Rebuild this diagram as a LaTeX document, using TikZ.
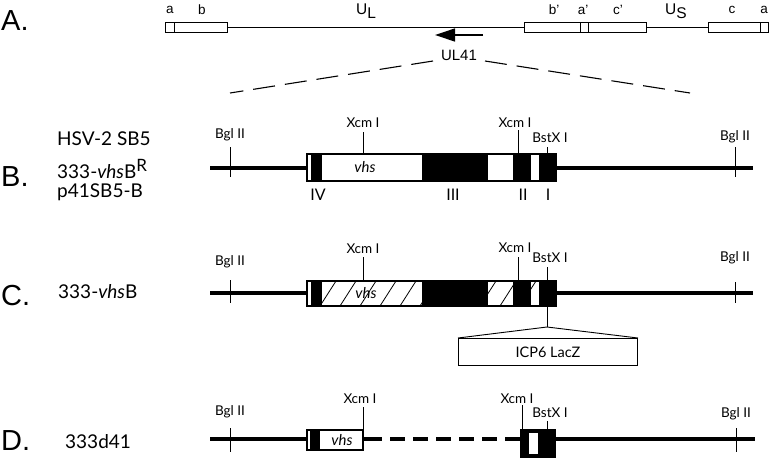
\documentclass[tikz,border=0pt]{standalone}
\usepackage{fontspec}
\setmainfont{Liberation Sans}
\newfontfamily\opt{Lato}
\usetikzlibrary{arrows.meta}
\newcommand\hatchseg[4]{\begin{scope}\clip (#1,#2) rectangle (#3,#4);
  \foreach \k in {280,300,...,580} \draw[line width=0.8pt] (\k,#4) -- (\k+16,#2);
  \end{scope}}
\begin{document}
\begin{tikzpicture}[x=1pt,y=-1pt,
  thinln/.style={line width=0.9pt},
  dna/.style={line width=4pt},
  tickln/.style={line width=0.9pt},
  site/.style={font=\opt\fontsize{13.5}{14}\selectfont, inner sep=0pt, anchor=base},
  rowlab/.style={font=\fontsize{29}{30}\selectfont, inner sep=0pt, anchor=base west},
  strain/.style={font=\opt\fontsize{19}{20}\selectfont, inner sep=0pt, anchor=base west},
  roman/.style={font=\opt\fontsize{16}{16}\selectfont, inner sep=0pt, anchor=base},
  genebox/.style={line width=1.2pt},
  vhslab/.style={font=\opt\itshape\fontsize{15}{15}\selectfont, inner sep=0pt},
  albl/.style={font=\fontsize{13.5}{14}\selectfont, inner sep=0pt},
  ]
\useasboundingbox (0,0) rectangle (770,461);

% ---------------- Row A ----------------
\node[rowlab] (lA) at (1,30) {A.};
\draw[thinln] (227,27.5) -- (524,27.5);
\draw[thinln] (646,27.5) -- (708,27.5);
\draw[thinln] (165,22) rectangle (227,32.5);
\draw[thinln] (174,22) -- (174,32.5);
\draw[thinln] (524,22) rectangle (646,32.5);
\draw[thinln] (580,22) -- (580,32.5);
\draw[thinln] (588,22) -- (588,32.5);
\draw[thinln] (708,22) rectangle (768,32.5);
\draw[thinln] (760,22) -- (760,32.5);
\node[albl] (ta) at (170,10) {a};
\node[albl] (tb) at (202,10) {b};
\node[albl,font=\fontsize{15.5}{16}\selectfont] (tUL) at (366,11) {U\raisebox{-4pt}{L}};
\node[albl] (tbp) at (554,10) {b'};
\node[albl] (tap) at (583,10) {a'};
\node[albl] (tcp) at (618,10) {c'};
\node[albl,font=\fontsize{15.5}{16}\selectfont] (tUS) at (676,11) {U\raisebox{-4pt}{S}};
\node[albl] (tc) at (732,10) {c};
\node[albl] (ta2) at (764,10) {a};
\coordinate (arS) at (483,35);
\coordinate (arE) at (435,35);
\draw[line width=1.3pt,-{Triangle[length=20pt,width=13pt]}] (arS) -- (arE);
\node[albl,font=\fontsize{15}{15}\selectfont] (ul41) at (459,55) {UL41};
\draw[line width=1.1pt,dash pattern=on 22pt off 10pt] (433,61) -- (230,93);
\draw[line width=1.1pt,dash pattern=on 22pt off 10pt] (485,61) -- (690,93);

% ---------------- Row B ----------------
\node[rowlab] (lB) at (1,186) {B.};
\node[strain] (sB1) at (57,145) {HSV-2 SB5};
\node[strain] (sB2) at (57,178) {333-{\itshape vhs}B\raisebox{7pt}{\fontsize{17}{17}\selectfont R}};
\node[strain] (sB3) at (57,197) {p41SB5-B};
\draw[dna] (210,167.5) -- (753,167.5);
\draw[genebox,fill=white] (307,154) rectangle (556,181);
\fill (311,154) rectangle (322,181);
\fill (422,154) rectangle (488,181);
\fill (513,154) rectangle (531,181);
\fill (539,154) rectangle (556,181);
\draw[genebox] (307,154) rectangle (556,181);
\node[vhslab] (vB) at (365,167.5) {vhs};
\draw[tickln] (230,147) -- (230,177);
\node[site] (bB1) at (230,138) {Bgl II};
\draw[tickln] (363,132) -- (363,154);
\node[site] (xB1) at (363,127) {Xcm I};
\draw[tickln] (518,130) -- (518,154);
\node[site] (xB2) at (515,127) {Xcm I};
\draw[tickln] (547,147) -- (547,154);
\node[site] (sxB) at (550,142) {BstX I};
\draw[tickln] (735,147) -- (735,177);
\node[site] (bB2) at (735,140) {Bgl II};
\node[roman] (r4) at (318,200) {IV};
\node[roman] (r3) at (453,200) {III};
\node[roman] (r2) at (523,200) {II};
\node[roman] (r1) at (548,200) {I};

% ---------------- Row C ----------------
\node[rowlab] (lC) at (1,305) {C.};
\node[strain] (sC) at (58,298) {333-{\itshape vhs}B};
\draw[dna] (210,292.5) -- (753,292.5);
\draw[genebox,fill=white] (307,281) rectangle (556,306);
\hatchseg{322}{281}{422}{306}
\hatchseg{488}{281}{513}{306}
\hatchseg{531}{281}{539}{306}
\fill (311,281) rectangle (322,306);
\fill (422,281) rectangle (488,306);
\fill (513,281) rectangle (531,306);
\fill (539,281) rectangle (556,306);
\draw[genebox] (307,281) rectangle (556,306);
\node[vhslab] (vC) at (366,293.5) {vhs};
\draw[tickln] (230,280) -- (230,303);
\node[site] (bC1) at (230,265) {Bgl II};
\draw[tickln] (363,257) -- (363,281);
\node[site] (xC1) at (363,253) {Xcm I};
\draw[tickln] (518,257) -- (518,281);
\node[site] (xC2) at (515,252) {Xcm I};
\draw[tickln] (547,267) -- (547,281);
\node[site] (sxC) at (550,262) {BstX I};
\draw[tickln] (735,282) -- (735,303);
\node[site] (bC2) at (735,261) {Bgl II};
\coordinate (ins) at (547,327);
\draw[tickln] (547,306) -- (ins);
\node[draw,line width=1pt,minimum width=179pt,minimum height=27pt,inner sep=0pt,anchor=north west,
  font=\opt\fontsize{14.5}{15}\selectfont] (icp) at (458,338) {ICP6 LacZ};
\draw[tickln] (icp.north west) -- (ins) -- (icp.north east);

% ---------------- Row D ----------------
\node[rowlab] (lD) at (1,450) {D.};
\node[strain] (sD) at (65,448) {333d41};
\draw[dna] (210,439) -- (307,439);
\draw[dna] (363,439) -- (382,439);
\draw[dna,dash pattern=on 15pt off 8pt] (390,439) -- (521,439);
\draw[dna] (555,439) -- (755,439);
\draw[genebox,fill=white] (307,430) rectangle (363,450);
\fill (310,430) rectangle (320,450);
\draw[genebox] (307,430) rectangle (363,450);
\node[vhslab] (vD) at (342,440) {vhs};
\fill (521,430) rectangle (555,457);
\fill[white] (529,433) rectangle (538,454);
\draw[genebox] (521,430) rectangle (555,457);
\draw[tickln] (230,428) -- (230,452);
\node[site] (bD1) at (230,415) {Bgl II};
\draw[tickln] (363,407) -- (363,430);
\node[site] (xD1) at (360,403) {Xcm I};
\draw[tickln] (522,405) -- (522,430);
\node[site] (xD2) at (517,403) {Xcm I};
\draw[tickln] (547,421) -- (547,430);
\node[site] (sxD) at (550,417) {BstX I};
\draw[tickln] (736,428) -- (736,452);
\node[site] (bD2) at (736,417) {Bgl II};
\end{tikzpicture}
\end{document}
